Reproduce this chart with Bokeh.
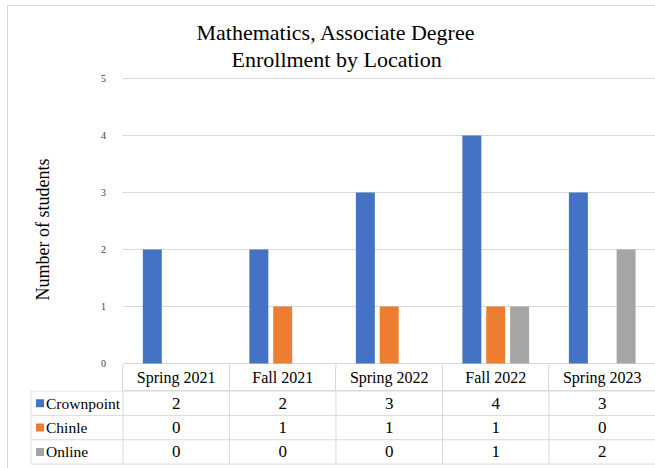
import math
from bokeh.plotting import figure
from bokeh.models import ColumnDataSource, FixedTicker, LinearAxis, Range1d, Title
from bokeh.layouts import column
from bokeh.transform import dodge
from bokeh.embed import file_html
from bokeh.resources import INLINE
from bokeh.core.properties import value

# ---- data ----
categories = ["Spring 2021", "Fall 2021", "Spring 2022", "Fall 2022", "Spring 2023"]
series_names = ["Crownpoint", "Chinle", "Online"]
crownpoint = [2, 2, 3, 4, 3]
chinle = [0, 1, 1, 1, 0]
online = [0, 0, 0, 1, 2]
series_colors = ["#4472C4", "#ED7D31", "#A5A5A5"]
y_ticks = [0, 1, 2, 3, 4, 5]
title_lines = ["Mathematics, Associate Degree", "Enrollment by Location"]
y_label = "Number of students"

GRID = "#D9D9D9"
SERIF = "Liberation Serif"

# ---- layout constants (pixels, page coordinates) ----
W = 655
TABLE_L = 30          # left edge of data table = left edge of both frames
CAT_L = 122           # left edge of first category
CAT_R = 655
CAT_PX = (CAT_R - CAT_L) / len(categories)
ROW_PX = 25
Y_PX = 57.0           # pixels per student
PX = 1.0 / CAT_PX
OVERLAP = 4           # table figure slides up under the chart's bottom edge

xs = list(range(len(categories)))
series_values = [crownpoint, chinle, online]
src = ColumnDataSource(dict(x=xs, cat=categories,
                            Crownpoint=crownpoint, Chinle=chinle, Online=online))

x_start = -0.5 - (CAT_L - TABLE_L + 0.5) * PX
x_end = len(categories) - 0.5
x_border = -0.5 - (CAT_L - TABLE_L) * PX
bounds = [i - 0.5 for i in range(len(categories) + 1)]

# ================= chart =================
CH = 369
TOP = 72
y0 = -(CH - 363) / Y_PX
y1 = 5 + (78 - TOP) / Y_PX
p = figure(width=W, height=CH, output_backend="svg", toolbar_location=None,
           x_range=Range1d(x_start, x_end), y_range=Range1d(y0, y1),
           x_axis_location=None, y_axis_location=None,
           min_border_left=TABLE_L, min_border_right=0,
           min_border_top=TOP, min_border_bottom=0)
p.outline_line_color = None
p.background_fill_color = None
p.border_fill_color = None
p.xgrid.visible = False
p.ygrid.visible = False

# gridlines across the category area
p.segment(x0=[-0.5] * len(y_ticks), x1=[x_end] * len(y_ticks), y0=y_ticks, y1=y_ticks,
          line_color=GRID, line_width=1)
# upper ends of the header-row separators
p.segment(x0=bounds, x1=bounds, y0=[0] * len(bounds), y1=[y0] * len(bounds),
          line_color=GRID, line_width=1)

offsets = [-0.224, 0.0, 0.224]
for name, col, off in zip(series_names, series_colors, offsets):
    p.vbar(x=dodge("x", off), top=name, width=0.178, source=src,
           fill_color=col, line_color=None)

yticker = FixedTicker(ticks=y_ticks)
yax = LinearAxis(ticker=yticker, fixed_location=-0.5)
yax.axis_line_color = None
yax.major_tick_line_color = None
yax.minor_tick_line_color = None
yax.major_label_standoff = 11
yax.major_label_text_font = SERIF
yax.major_label_text_font_size = "10px"
yax.major_label_text_color = "#404040"
p.add_layout(yax, "left")

p.text(x=[x_border + 12 * PX], y=[2.35], text=[y_label], angle=math.pi / 2,
       text_font=value(SERIF), text_font_size="18px",
       text_align="center", text_baseline="middle", text_color="#000000")

t2 = Title(text=title_lines[1], align="left", offset=201, standoff=1,
           text_font=SERIF, text_font_size="22px", text_font_style="normal",
           text_color="#000000")
t1 = Title(text=title_lines[0], align="left", offset=166, standoff=0,
           text_font=SERIF, text_font_size="22px", text_font_style="normal",
           text_color="#000000")
p.add_layout(t2, "above")
p.add_layout(t1, "above")

# ================= data table =================
n_rows = len(series_names)
TH = 468 - CH + OVERLAP
HEAD = 388 - (CH - OVERLAP)
y_top = n_rows + 0.5 / ROW_PX
t = figure(width=W, height=TH, output_backend="svg", toolbar_location=None,
           x_range=Range1d(x_start, x_end),
           y_range=Range1d(y_top - (TH - HEAD) / ROW_PX, y_top),
           x_axis_location=None, y_axis_location=None,
           min_border_left=TABLE_L, min_border_right=0,
           min_border_top=HEAD, min_border_bottom=0)
t.outline_line_color = None
t.xgrid.visible = False
t.ygrid.visible = False
t.background_fill_color = None
t.border_fill_color = None
t.margin = (-OVERLAP, 0, 0, 0)

xticker = FixedTicker(ticks=xs, minor_ticks=bounds)
xax = LinearAxis(ticker=xticker, bounds=(-0.5, x_end))
xax.major_label_overrides = {i: c for i, c in zip(xs, categories)}
xax.axis_line_color = GRID
xax.major_tick_line_color = None
xax.minor_tick_in = 0
xax.minor_tick_out = HEAD
xax.minor_tick_line_color = GRID
xax.major_label_standoff = 5 - HEAD
xax.major_label_text_font = SERIF
xax.major_label_text_font_size = "16px"
xax.major_label_text_color = "#000000"
t.add_layout(xax, "above")

hy = list(range(n_rows + 1))
t.segment(x0=[x_border] * len(hy), x1=[x_end] * len(hy), y0=hy, y1=hy,
          line_color=GRID, line_width=1)
vx = [x_border] + bounds
t.segment(x0=vx, x1=vx, y0=[0] * len(vx), y1=[n_rows] * len(vx),
          line_color=GRID, line_width=1)

for r, (name, col, vals) in enumerate(zip(series_names, series_colors, series_values)):
    yc = n_rows - r - 0.5
    t.scatter(x=[x_border + 9 * PX], y=[yc], marker="square", size=8,
              fill_color=col, line_color=None)
    t.text(x=[x_border + 15 * PX], y=[yc], text=[name], text_font=value(SERIF),
           text_font_size="15.5px", text_baseline="middle", text_align="left",
           text_color="#000000")
    t.text(x=xs, y=[yc] * len(xs), text=[str(v) for v in vals],
           text_font=value(SERIF),
           text_font_size="17px", text_baseline="middle", text_align="center",
           text_color="#000000")

bg = ("linear-gradient(#D9D9D9, #D9D9D9) 7px 5px / 648px 1px no-repeat, "
      "linear-gradient(#D9D9D9, #D9D9D9) 7px 5px / 1px 463px no-repeat, white")
layout = column(p, t, spacing=0, styles={"background": bg})

open("out.html", "w").write(file_html(layout, INLINE))
